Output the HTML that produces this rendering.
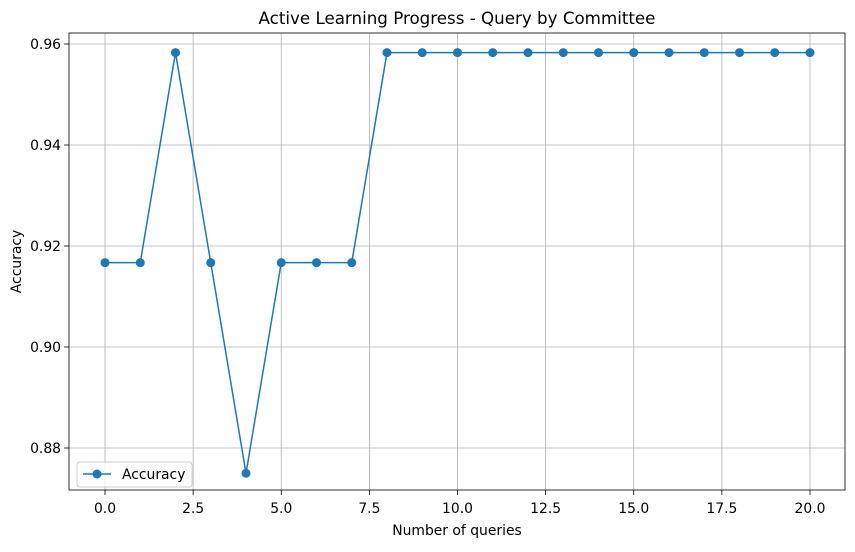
<!DOCTYPE html>
<html><head><meta charset="utf-8"><style>
body{margin:0;background:#fff;font-family:"Liberation Sans","DejaVu Sans",sans-serif;}
svg text{font-family:"DejaVu Sans","Liberation Sans",sans-serif;}
</style></head><body>
<svg id="c" width="855" height="547" xmlns="http://www.w3.org/2000/svg"></svg>
<script>
const xValues=[0,1,2,3,4,5,6,7,8,9,10,11,12,13,14,15,16,17,18,19,20];
const accuracy=[0.9167,0.9167,0.9583,0.9167,0.875,0.9167,0.9167,0.9167,0.9583,0.9583,0.9583,0.9583,0.9583,0.9583,0.9583,0.9583,0.9583,0.9583,0.9583,0.9583,0.9583];
const xTicks=[0,2.5,5,7.5,10,12.5,15,17.5,20];
const xTickLabels=["0.0","2.5","5.0","7.5","10.0","12.5","15.0","17.5","20.0"];
const yTicks=[0.88,0.90,0.92,0.94,0.96];
const yTickLabels=["0.88","0.90","0.92","0.94","0.96"];

const L=69,R=845,T=33,B=490;
const sx=v=>105+(v-0)*(810-105)/20;
const sy=v=>44+(0.96-v)*(448-44)/0.08;
const svg=document.getElementById('c');
const NS='http://www.w3.org/2000/svg';
function mk(t,a,p){const e=document.createElementNS(NS,t);for(const k in a)e.setAttribute(k,a[k]);(p||svg).appendChild(e);return e;}

const grid=mk('g',{});


xTicks.forEach((v,i)=>{
  mk('line',{x1:sx(v),x2:sx(v),y1:T,y2:B,stroke:'#b0b0b0','stroke-width':0.8},grid);
  mk('line',{x1:sx(v),x2:sx(v),y1:B,y2:B+5,stroke:'#000','stroke-width':0.8});
  const t=mk('text',{x:sx(v),y:B+23,'font-size':13.9,'text-anchor':'middle'});
  
  
  t.textContent=xTickLabels[i];
});
yTicks.forEach((v,i)=>{
  mk('line',{x1:L,x2:R,y1:sy(v),y2:sy(v),stroke:'#b0b0b0','stroke-width':0.8},grid);
  mk('line',{x1:L-5,x2:L,y1:sy(v),y2:sy(v),stroke:'#000','stroke-width':0.8});
  const t=mk('text',{x:L-8,y:sy(v)+5,'font-size':13.9,'text-anchor':'end'});
  
  
  t.textContent=yTickLabels[i];
});
const frame=mk('rect',{x:L,y:T,width:R-L,height:B-T,fill:'none',stroke:'#000','stroke-width':0.8});



const line=mk('polyline',{points:xValues.map((x,i)=>sx(x)+','+sy(accuracy[i])).join(' '),fill:'none',stroke:'#1f77b4','stroke-width':1.5});


xValues.forEach((x,i)=>{
  const c=mk('circle',{cx:sx(x),cy:sy(accuracy[i]),r:4.5,fill:'#1f77b4'});
  
  
});

const title=mk('text',{x:(L+R)/2,y:24,'font-size':16.7,'text-anchor':'middle'});


title.textContent='Active Learning Progress - Query by Committee';
const xt=mk('text',{x:(L+R)/2,y:535,'font-size':13.9,'text-anchor':'middle'});


xt.textContent='Number of queries';
const yt=mk('text',{x:0,y:0,'font-size':13.9,'text-anchor':'middle',transform:'translate(21,'+((T+B)/2)+') rotate(-90)'});


yt.textContent='Accuracy';

const lg=mk('g',{});


mk('rect',{x:77,y:462,width:115,height:25,rx:3,fill:'#fff','fill-opacity':0.8,stroke:'#ccc'},lg);
mk('line',{x1:83,x2:111,y1:474,y2:474,stroke:'#1f77b4','stroke-width':1.5},lg);
mk('circle',{cx:97,cy:474,r:4.5,fill:'#1f77b4'},lg);
const lt=mk('text',{x:122,y:479,'font-size':13.9},lg);


lt.textContent='Accuracy';
</script>
</body></html>
